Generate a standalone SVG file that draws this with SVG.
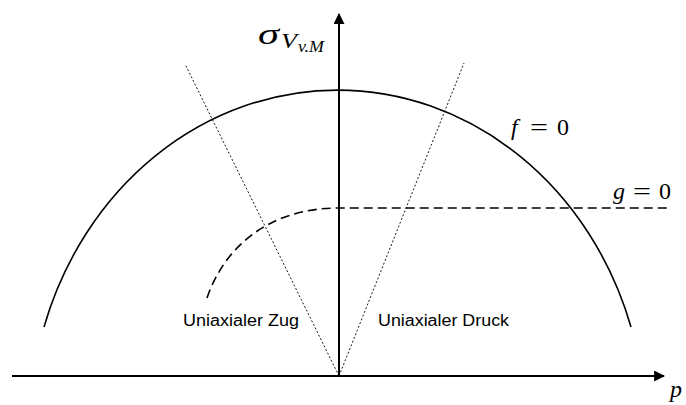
<svg xmlns="http://www.w3.org/2000/svg" width="686" height="405" viewBox="0 0 686 405">
<style>
.axis{stroke:#000;stroke-width:2;fill:none}
.curve{stroke:#000;stroke-width:1.6;fill:none}
.dash{stroke:#000;stroke-width:1.6;fill:none;stroke-dasharray:9,5}
.dot{stroke:#000;stroke-width:0.9;fill:none;stroke-dasharray:2,2}
.math{font-family:"Liberation Serif",serif;font-style:italic;fill:#000}
.up{font-style:normal}
.lbl{font-family:"Liberation Sans",Arial,sans-serif;font-size:16px;fill:#000}
</style>
<defs>
<marker id="arr" viewBox="0 0 10 10" refX="9" refY="5" markerWidth="5.5" markerHeight="5.5" orient="auto" markerUnits="strokeWidth">
<path d="M0,0 L10,5 L0,10 z" fill="#000"/>
</marker>
</defs>
<g id="connectors">
<line class="dot" x1="339" y1="376" x2="185" y2="64"/>
<line class="dot" x1="339" y1="376" x2="464" y2="63"/>
<line class="axis" x1="12" y1="376" x2="664" y2="376" marker-end="url(#arr)"/>
<line class="axis" x1="339" y1="376" x2="339" y2="14" marker-end="url(#arr)"/>
</g>
<g id="f-curve">
<path class="curve" d="M44,327 A308,340 0 0 1 631,327"/>
<text class="math" x="511" y="135" font-size="24">f</text>
<text class="math up" x="530" y="135" font-size="24" textLength="18" lengthAdjust="spacingAndGlyphs">=</text>
<text class="math up" x="557" y="135" font-size="24">0</text>
</g>
<g id="g-curve">
<path class="dash" d="M207,298 C224,248 268,208 339,208 L671,208"/>
<text class="math" x="613" y="199" font-size="24">g</text>
<text class="math up" x="633" y="199" font-size="24" textLength="18" lengthAdjust="spacingAndGlyphs">=</text>
<text class="math up" x="659" y="199" font-size="24">0</text>
</g>
<g id="labels">
<text class="math" x="258" y="44" font-size="30" textLength="21" lengthAdjust="spacingAndGlyphs">σ</text>
<text class="math" x="281" y="48" font-size="21" textLength="16" lengthAdjust="spacingAndGlyphs">V</text>
<text class="math" x="298" y="52" font-size="16" textLength="26" lengthAdjust="spacingAndGlyphs">v.M</text>
<text class="math" x="670" y="397" font-size="24">p</text>
<text class="lbl" x="183" y="326" textLength="116" lengthAdjust="spacingAndGlyphs">Uniaxialer Zug</text>
<text class="lbl" x="378" y="326" textLength="131" lengthAdjust="spacingAndGlyphs">Uniaxialer Druck</text>
</g>
</svg>
